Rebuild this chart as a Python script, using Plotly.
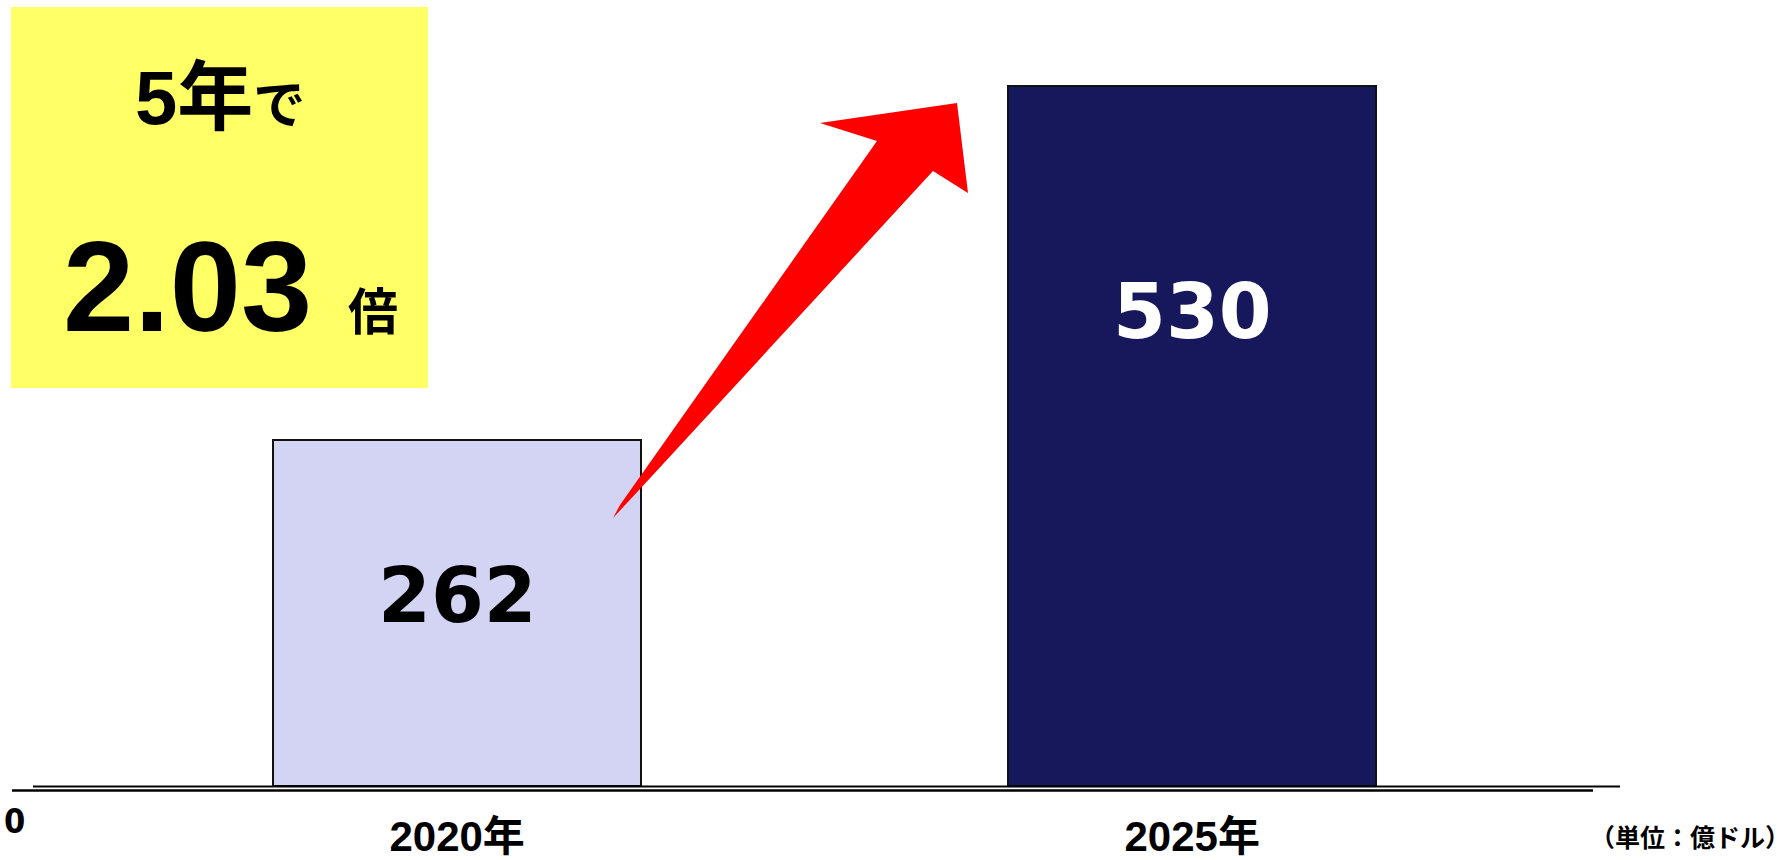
import plotly.graph_objects as go

# ---- data ----
categories = ["2020年", "2025年"]
values = [262, 530]
bar_colors = ["#D3D3F3", "#17175B"]
label_colors = ["#000000", "#FFFFFF"]
headline_top = "5年で"
headline_ratio = "2.03"
headline_unit = "倍"
unit_note = "（単位：億ドル）"
zero_label = "0"

W, H = 1790, 860
L, R, T, B = 33, 170, 0, 74
PW, PH = W - L - R, H - T - B


def px(X):
    return (X - L) / PW


def py(Y):
    return (H - B - Y) / PH


fig = go.Figure()
fig.add_trace(go.Bar(
    x=categories, y=values, width=0.5,
    marker=dict(color=bar_colors, line=dict(color="#111111", width=2)),
    showlegend=False, hoverinfo="skip",
))

# value labels inside bars
label_y = [144, 359]
for c, v, col, ly in zip(categories, values, label_colors, label_y):
    fig.add_annotation(x=c, y=ly, xref="x", yref="y", text=f"<b>{v}</b>",
                       showarrow=False, xanchor="center", yanchor="middle",
                       font=dict(family="DejaVu Sans", size=76, color=col))

shapes = []
# yellow box
shapes.append(dict(type="rect", xref="paper", yref="paper",
                   x0=px(11), x1=px(428), y0=py(388), y1=py(7),
                   fillcolor="#FFFF66", line=dict(width=0), layer="below"))
# baseline double line
shapes.append(dict(type="line", xref="paper", yref="paper",
                   x0=px(33), x1=px(1620), y0=py(786.5), y1=py(786.5),
                   line=dict(color="#000000", width=2)))
shapes.append(dict(type="line", xref="paper", yref="paper",
                   x0=px(12), x1=px(1593), y0=py(790.5), y1=py(790.5),
                   line=dict(color="#000000", width=2.5)))
# red arrow
pts = [(613, 518), (640, 489), (933, 171), (968, 193), (957, 103),
       (820, 123), (877, 141), (620, 505)]
path = "M " + " L ".join(f"{px(x):.5f},{py(y):.5f}" for x, y in pts) + " Z"
shapes.append(dict(type="path", xref="paper", yref="paper", path=path,
                   fillcolor="#FF0000", line=dict(width=0)))

anns = [
    dict(x=px(220), y=py(98), text="<b>5年</b><b><span style='font-size:52px'>で</span></b>",
         font=dict(family="Liberation Sans, Noto Sans CJK JP", size=76, color="#000")),
    dict(x=px(187), y=py(286), text="<b>2.03</b>",
         font=dict(family="Liberation Sans", size=128, color="#000")),
    dict(x=px(373), y=py(308), text="<b>倍</b>",
         font=dict(family="Noto Sans CJK JP", size=50, color="#000")),
    dict(x=px(1690), y=py(836), text="<b>" + unit_note + "</b>",
         font=dict(family="Noto Sans CJK JP", size=25, color="#000")),
    dict(x=px(14), y=py(821), text="<b>" + zero_label + "</b>",
         font=dict(family="Liberation Sans Narrow, DejaVu Sans Condensed", size=34, color="#000")),
]
for a in anns:
    fig.add_annotation(xref="paper", yref="paper", showarrow=False,
                       xanchor="center", yanchor="middle", **a)

fig.update_layout(
    width=W, height=H,
    margin=dict(l=L, r=R, t=T, b=B, pad=0),
    paper_bgcolor="white", plot_bgcolor="white",
    shapes=shapes,
    xaxis=dict(type="category", range=[-0.577, 1.582], showline=False,
               showgrid=False, zeroline=False, ticks="",
               tickfont=dict(family="Liberation Sans, Noto Sans CJK JP", size=42, color="#000"),
               ticklabelstandoff=22),
    yaxis=dict(range=[0, 595], visible=False, showgrid=False, zeroline=False),
    bargap=0,
)
fig.update_xaxes(tickvals=categories, ticktext=[f"<b>{c}</b>" for c in categories])

fig.write_html("out.html", config={"displayModeBar": False},
               post_script="document.body.style.margin='0px';")
